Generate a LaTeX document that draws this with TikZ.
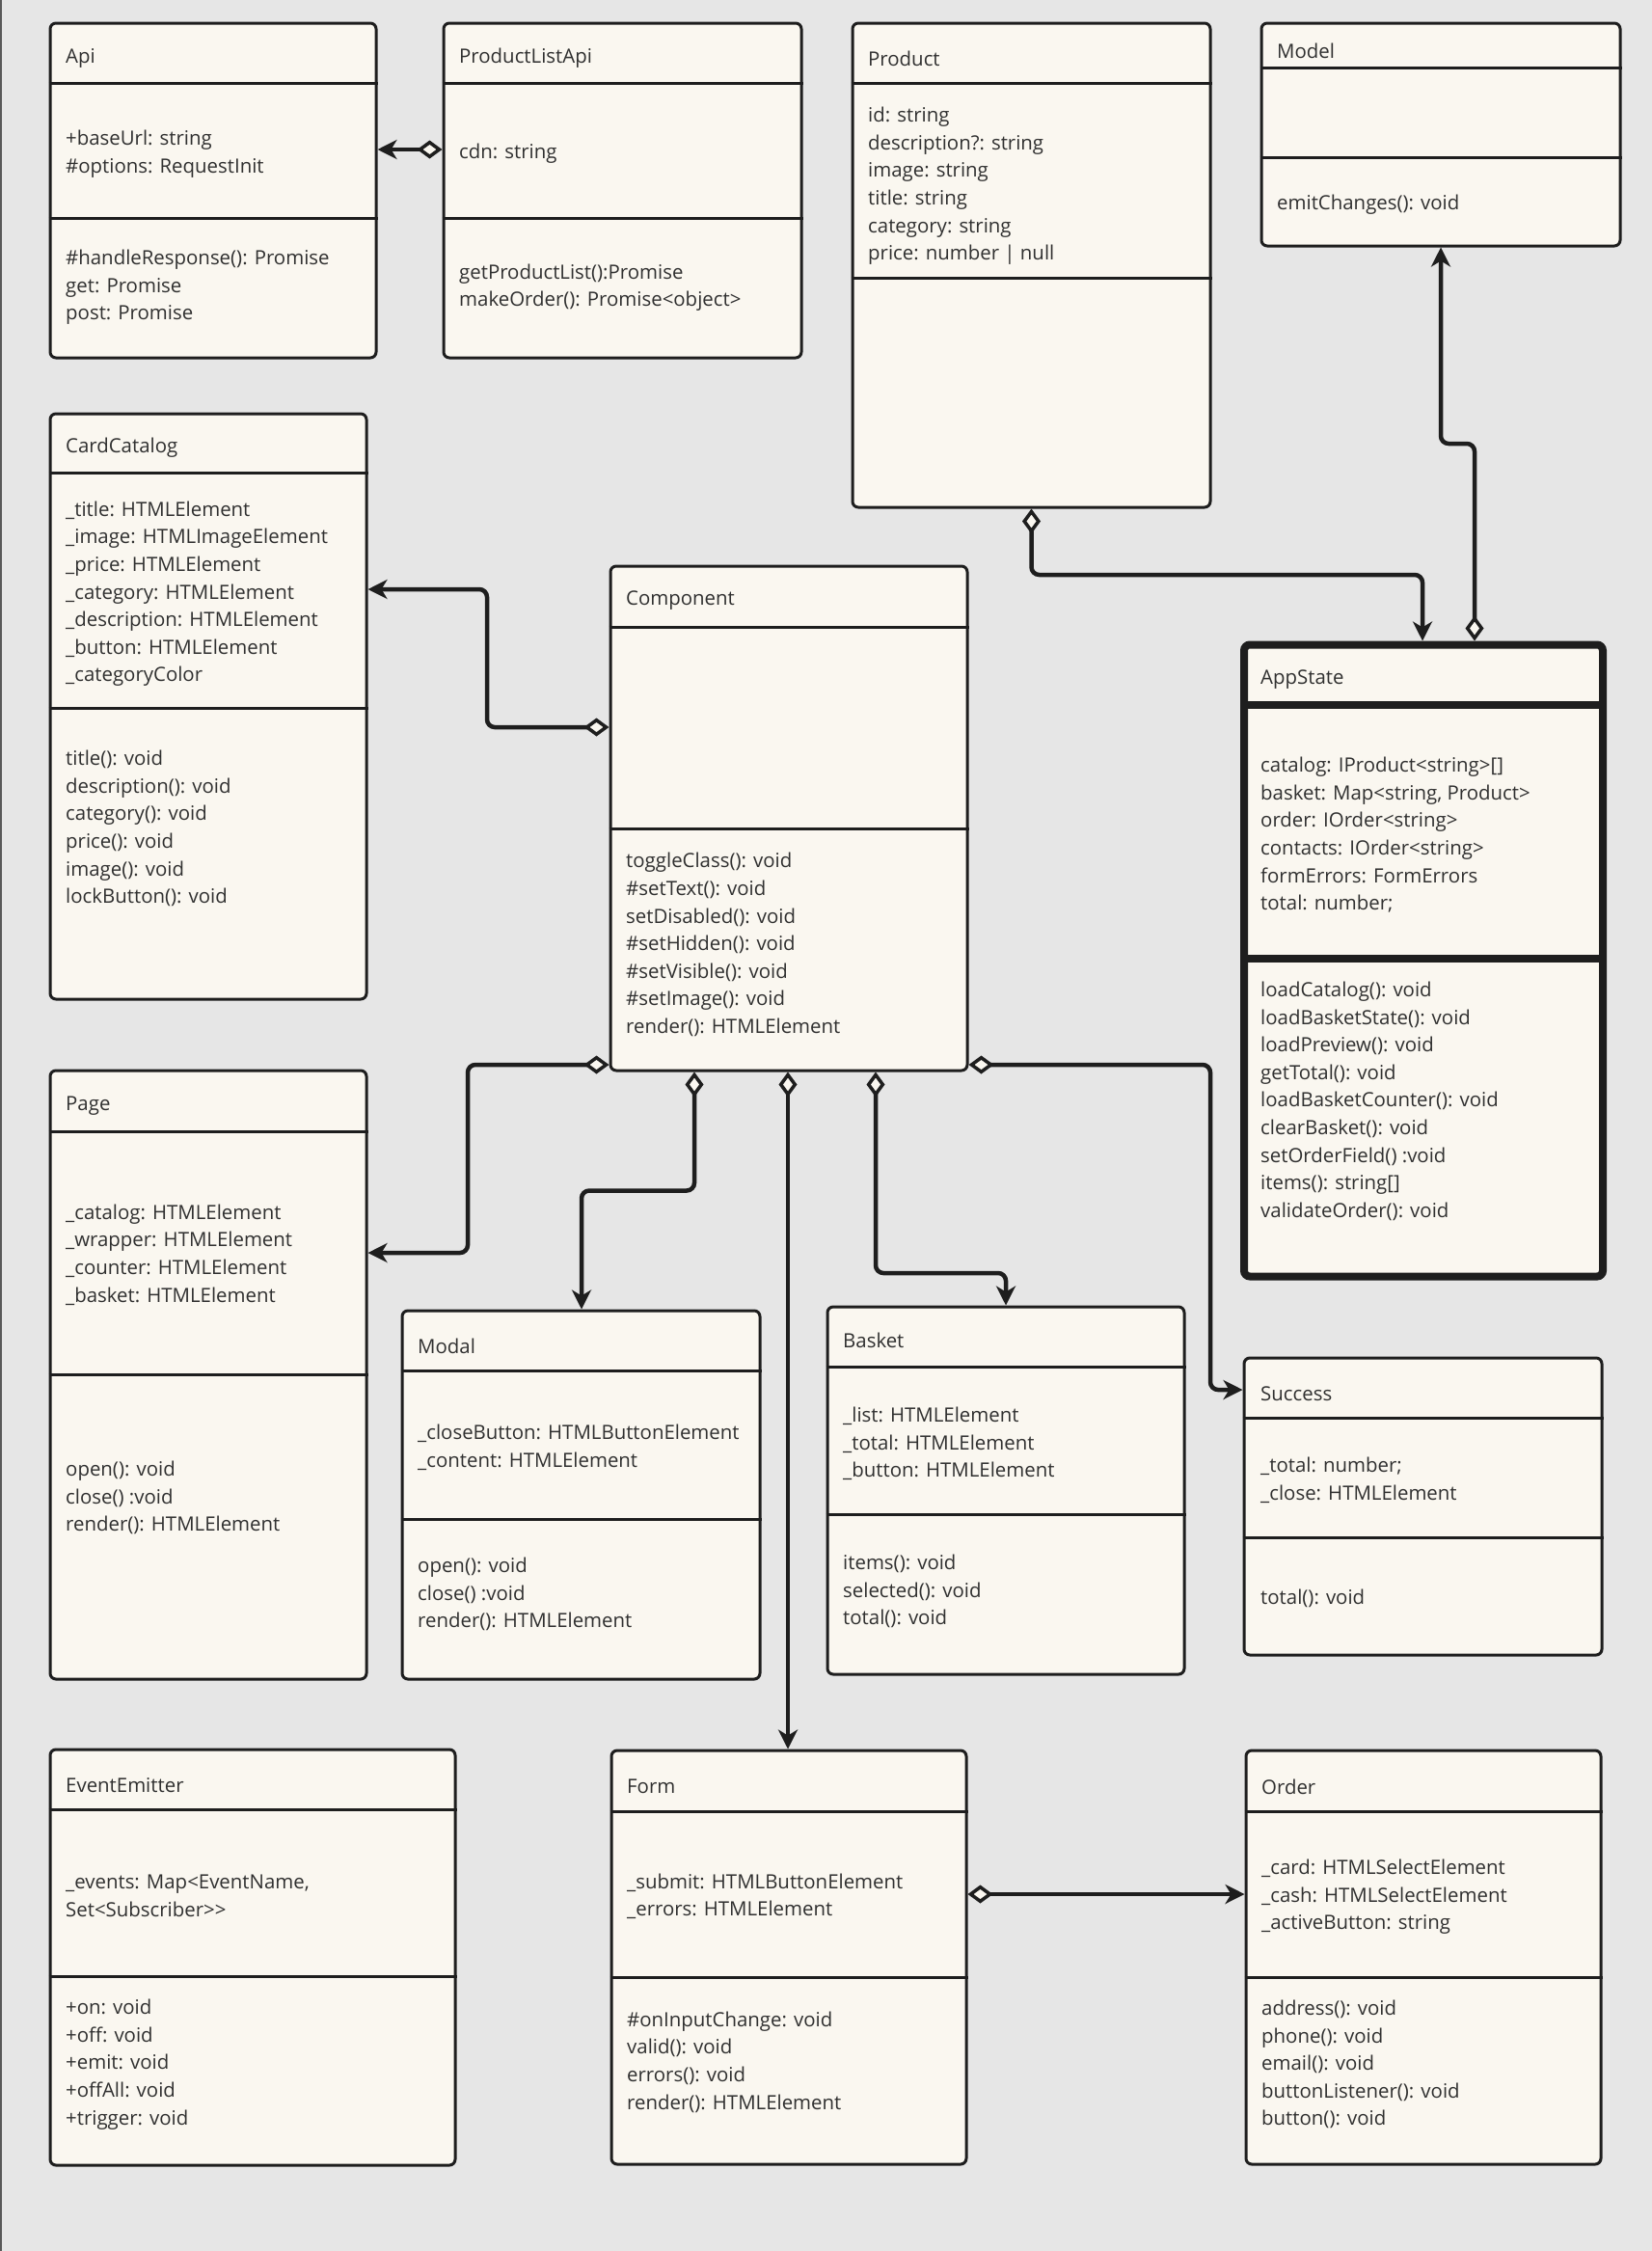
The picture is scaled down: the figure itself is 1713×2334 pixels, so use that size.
\documentclass[tikz,border=0pt]{standalone}
\usepackage{fontspec}
\setmainfont{Open Sans}
\usetikzlibrary{arrows.meta, fit}
\definecolor{bgc}{HTML}{E6E6E6}
\definecolor{boxc}{HTML}{FAF7F0}
\definecolor{linec}{HTML}{1E1E1E}
\definecolor{txtc}{HTML}{303030}

\begin{document}
\begin{tikzpicture}[x=1pt, y=-1pt,
  box/.style={draw=linec, fill=boxc, line width=3pt, rounded corners=6pt, inner sep=0pt},
  sep/.style={draw=linec, line width=3pt},
  t/.style={anchor=west, inner sep=0pt, yshift=-4pt, align=left, text=txtc, font=\fontsize{20.4}{28.6}\selectfont},
  link/.style={draw=linec, line width=4.5pt, rounded corners=8pt,
    {Diamond[length=26pt 0, width=19pt 0, line width=3.5pt 0, fill=boxc]}-{Stealth[length=20pt 0, width=20pt 0, inset=6pt 0]}}]
\useasboundingbox (0,0) rectangle (1713,2334);
\fill[bgc] (0,0) rectangle (1713,2334);
\draw[line width=2pt, black!65] (1,0) -- (1,2334);

\node[box, fit={(52,24) (390,371)}] (api) {};
\draw[sep] (api.west |- 0,86) -- (api.east |- 0,86);
\draw[sep] (api.west |- 0,226) -- (api.east |- 0,226);
\node[t] (api0) at (68,56.6) {Api};
\node[t] (api1) at (68,155.5) {+baseUrl: string\\\#options: RequestInit};
\node[t] (api2) at (68,294) {\#handleResponse(): Promise\\get: Promise\\post: Promise};

\node[box, fit={(460,24) (831,371)}] (pla) {};
\draw[sep] (pla.west |- 0,86) -- (pla.east |- 0,86);
\draw[sep] (pla.west |- 0,226) -- (pla.east |- 0,226);
\node[t] (pla0) at (476,56.6) {ProductListApi};
\node[t] (pla1) at (476,155) {cdn: string};
\node[t] (pla2) at (476,294) {getProductList():Promise\\makeOrder(): Promise<object>};

\node[box, fit={(884,24) (1255,526)}] (product) {};
\draw[sep] (product.west |- 0,86) -- (product.east |- 0,86);
\draw[sep] (product.west |- 0,288) -- (product.east |- 0,288);
\node[t] (product0) at (900,56.6) {Product};
\node[t] (product1) at (900,189) {id: string\\description?: string\\image: string\\title: string\\category: string\\price: number | null};

\node[box, fit={(1308,24) (1680,255)}] (model) {};
\draw[sep] (model.west |- 0,70) -- (model.east |- 0,70);
\draw[sep] (model.west |- 0,163) -- (model.east |- 0,163);
\node[t] (model0) at (1324,49) {Model};
\node[t] (model2) at (1324,208.4) {emitChanges(): void};

\node[box, fit={(52,429) (380,1036)}] (catalog) {};
\draw[sep] (catalog.west |- 0,490) -- (catalog.east |- 0,490);
\draw[sep] (catalog.west |- 0,734) -- (catalog.east |- 0,734);
\node[t] (catalog0) at (68,460) {CardCatalog};
\node[t] (catalog1) at (68,611.7) {\_title: HTMLElement\\\_image: HTMLImageElement\\\_price: HTMLElement\\\_category: HTMLElement\\\_description: HTMLElement\\\_button: HTMLElement\\\_categoryColor};
\node[t] (catalog2) at (68,855) {title(): void\\description(): void\\category(): void\\price(): void\\image(): void\\lockButton(): void};

\node[box, fit={(633,587) (1003,1110)}] (comp) {};
\draw[sep] (comp.west |- 0,650) -- (comp.east |- 0,650);
\draw[sep] (comp.west |- 0,859) -- (comp.east |- 0,859);
\node[t] (comp0) at (649,619) {Component};
\node[t] (comp2) at (649,975.6) {toggleClass(): void\\\#setText(): void\\setDisabled(): void\\\#setHidden(): void\\\#setVisible(): void\\\#setImage(): void\\render(): HTMLElement};

\node[box, line width=8pt, fit={(1290,668.5) (1662,1323.5)}] (appstate) {};
\draw[sep, line width=8pt] (appstate.west |- 0,731) -- (appstate.east |- 0,731);
\draw[sep, line width=8pt] (appstate.west |- 0,994) -- (appstate.east |- 0,994);
\node[t] (appstate0) at (1307,701) {AppState};
\node[t] (appstate1) at (1307,861.7) {catalog: IProduct<string>[]\\basket: Map<string, Product>\\order: IOrder<string>\\contacts: IOrder<string>\\formErrors: FormErrors\\total: number;};
\node[t] (appstate2) at (1307,1137.8) {loadCatalog(): void\\loadBasketState(): void\\loadPreview(): void\\getTotal(): void\\loadBasketCounter(): void\\clearBasket(): void\\setOrderField() :void\\items(): string[]\\validateOrder(): void};

\node[box, fit={(52,1110) (380,1741)}] (page) {};
\draw[sep] (page.west |- 0,1173) -- (page.east |- 0,1173);
\draw[sep] (page.west |- 0,1425) -- (page.east |- 0,1425);
\node[t] (page0) at (68,1143) {Page};
\node[t] (page1) at (68,1297) {\_catalog: HTMLElement\\\_wrapper: HTMLElement\\\_counter: HTMLElement\\\_basket: HTMLElement};
\node[t] (page2) at (68,1549) {open(): void\\close() :void\\render(): HTMLElement};

\node[box, fit={(417,1359) (788,1741)}] (modal) {};
\draw[sep] (modal.west |- 0,1421) -- (modal.east |- 0,1421);
\draw[sep] (modal.west |- 0,1575) -- (modal.east |- 0,1575);
\node[t] (modal0) at (433,1391.6) {Modal};
\node[t] (modal1) at (433,1496.5) {\_closeButton: HTMLButtonElement\\\_content: HTMLElement};
\node[t] (modal2) at (433,1649) {open(): void\\close() :void\\render(): HTMLElement};

\node[box, fit={(858,1355) (1228,1736)}] (basket) {};
\draw[sep] (basket.west |- 0,1417) -- (basket.east |- 0,1417);
\draw[sep] (basket.west |- 0,1570) -- (basket.east |- 0,1570);
\node[t] (basket0) at (874,1385.6) {Basket};
\node[t] (basket1) at (874,1492.8) {\_list: HTMLElement\\\_total: HTMLElement\\\_button: HTMLElement};
\node[t] (basket2) at (874,1646) {items(): void\\selected(): void\\total(): void};

\node[box, fit={(1290,1408) (1661,1716)}] (success) {};
\draw[sep] (success.west |- 0,1470.5) -- (success.east |- 0,1470.5);
\draw[sep] (success.west |- 0,1594) -- (success.east |- 0,1594);
\node[t] (success0) at (1307,1440.7) {Success};
\node[t] (success1) at (1307,1530.7) {\_total: number;\\\_close: HTMLElement};
\node[t] (success2) at (1307,1653.5) {total(): void};

\node[box, fit={(52,1814) (472,2245)}] (emitter) {};
\draw[sep] (emitter.west |- 0,1876.5) -- (emitter.east |- 0,1876.5);
\draw[sep] (emitter.west |- 0,2049) -- (emitter.east |- 0,2049);
\node[t] (emitter0) at (68,1847) {EventEmitter};
\node[t] (emitter1) at (68,1961.6) {\_events: Map<EventName,\\Set<Subscriber>\kern0pt>};
\node[t] (emitter2) at (68,2136.5) {+on: void\\+off: void\\+emit: void\\+offAll: void\\+trigger: void};

\node[box, fit={(634,1815) (1002,2244)}] (form) {};
\draw[sep] (form.west |- 0,1878) -- (form.east |- 0,1878);
\draw[sep] (form.west |- 0,2050) -- (form.east |- 0,2050);
\node[t] (form0) at (650,1848.5) {Form};
\node[t] (form1) at (650,1962.3) {\_submit: HTMLButtonElement\\\_errors: HTMLElement};
\node[t] (form2) at (650,2134) {\#onInputChange: void\\valid(): void\\errors(): void\\render(): HTMLElement};

\node[box, fit={(1292,1815) (1660,2244)}] (order) {};
\draw[sep] (order.west |- 0,1878) -- (order.east |- 0,1878);
\draw[sep] (order.west |- 0,2050) -- (order.east |- 0,2050);
\node[t] (order0) at (1308,1848.5) {Order};
\node[t] (order1) at (1308,1963) {\_card: HTMLSelectElement\\\_cash: HTMLSelectElement\\\_activeButton: string};
\node[t] (order2) at (1308,2136.5) {address(): void\\phone(): void\\email(): void\\buttonListener(): void\\button(): void};

\draw[link] (pla.west |- 0,155) -- (api.east |- 0,155);
\draw[link] (1069.5,0 |- product.south) -- (1069.5,596) -- (1475,596) -- (1475,0 |- appstate.north);
\draw[link] (1529,0 |- appstate.north) -- (1529,460) -- (1494,460) -- (1494,0 |- model.south);
\draw[link] (comp.west |- 0,754) -- (505,754) -- (505,611) -- (catalog.east |- 0,611);
\draw[link] (comp.west |- 0,1104) -- (485,1104) -- (485,1299) -- (page.east |- 0,1299);
\draw[link] (720,0 |- comp.south) -- (720,1234.5) -- (603,1234.5) -- (603,0 |- modal.north);
\draw[link] (817,0 |- comp.south) -- (817,0 |- form.north);
\draw[link] (908,0 |- comp.south) -- (908,1320) -- (1043,1320) -- (1043,0 |- basket.north);
\draw[link] (comp.east |- 0,1104) -- (1255,1104) -- (1255,1441) -- (success.west |- 0,1441);
\draw[link] (form.east |- 0,1964) -- (order.west |- 0,1964);
\end{tikzpicture}
\end{document}
